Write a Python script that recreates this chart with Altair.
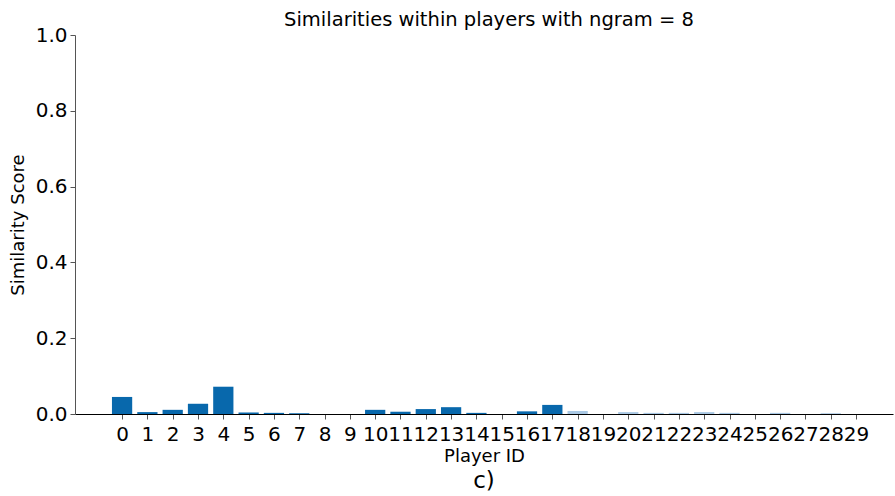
import altair as alt
import pandas as pd

# Similarity score per player (ngram = 8)
players = list(range(30))
scores = [0.045, 0.005, 0.011, 0.027, 0.072, 0.004, 0.003, 0.002, 0.0, 0.0,
          0.011, 0.006, 0.013, 0.018, 0.003, 0.0, 0.007, 0.024, 0.008, 0.0,
          0.005, 0.003, 0.003, 0.005, 0.003, 0.0, 0.003, 0.0, 0.002, 0.0]

df = pd.DataFrame({"player": players, "score": scores})

W, H = 818, 379
FONT = "DejaVu Sans"
DARK = "#0868ac"
LIGHT = "#a9c8e4"

x_scale = alt.Scale(domain=[-1.86, 30.46], nice=False, zero=False)

bars = alt.Chart(df).transform_calculate(
    x0="datum.player - 0.4", x1="datum.player + 0.4"
).mark_bar().encode(
    x=alt.X("x0:Q", scale=x_scale,
            axis=alt.Axis(values=players, format="d", title="Player ID",
                          labelFontSize=20, titleFontSize=18, titleFontWeight="normal",
                          labelFont=FONT, titleFont=FONT, labelColor="#000", titleColor="#000",
                          domainColor="#000", tickColor="#555", tickSize=5,
                          labelPadding=5, titlePadding=3, grid=False, labelFlush=False,
                          labelOverlap=False)),
    x2="x1:Q",
    y=alt.Y("score:Q", scale=alt.Scale(domain=[0, 1], nice=False),
            axis=alt.Axis(values=[0, 0.2, 0.4, 0.6, 0.8, 1.0], format=".1f",
                          title="Similarity Score",
                          labelFontSize=20, titleFontSize=18, titleFontWeight="normal",
                          labelFont=FONT, titleFont=FONT, labelColor="#000", titleColor="#000",
                          domainColor="#555", tickColor="#555", tickSize=5,
                          labelPadding=3, titlePadding=8, grid=False)),
    y2=alt.datum(0),
    color=alt.condition(alt.datum.player >= 18, alt.value(LIGHT), alt.value(DARK)),
)

panel_label = alt.Chart(pd.DataFrame({"t": ["c)"]})).mark_text(
    font=FONT, fontSize=23, color="#000", baseline="middle", align="center"
).encode(x=alt.value(W / 2), y=alt.value(H + 67), text="t:N")

chart = alt.layer(bars, panel_label).properties(
    width=W, height=H,
    background="white",
    title=alt.TitleParams("Similarities within players with ngram = 8",
                          font=FONT, fontSize=19.5, fontWeight="normal", color="#000",
                          anchor="middle", offset=2, dx=5, dy=7),
    autosize=alt.AutoSizeParams(type="none"),
    padding={"left": 75, "top": 35, "right": 2, "bottom": 82},
).configure_view(stroke=None, strokeWidth=0)

chart.save("out.html", embed_options={"renderer": "svg", "actions": False})
